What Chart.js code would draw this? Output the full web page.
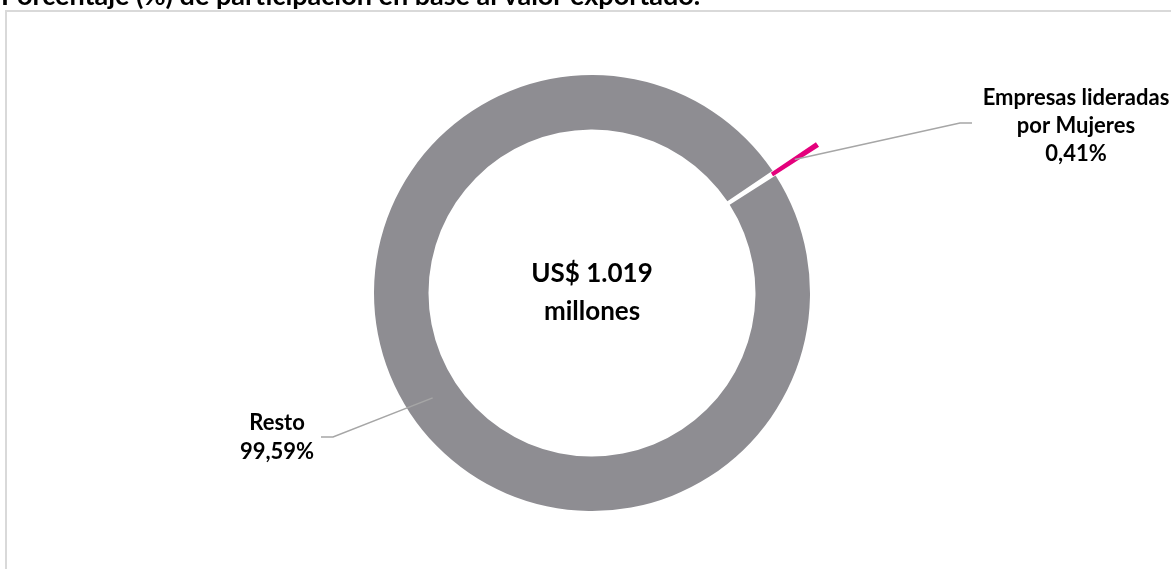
<!DOCTYPE html>
<html lang="es">
<head>
<meta charset="utf-8">
<title>Participación en el valor exportado</title>
<script src="https://cdn.jsdelivr.net/npm/chart.js@4.4.1/dist/chart.umd.min.js"></script>
<style>
  html, body { margin: 0; padding: 0; background: #fff; overflow: hidden; }
  #wrap { position: relative; width: 1171px; height: 569px; }
</style>
</head>
<body>
<div id="wrap"><canvas id="chart" width="1171" height="569"></canvas></div>
<script>
const categories = ['Empresas lideradas por Mujeres', 'Resto'];
const labelNames = [['Empresas lideradas', 'por Mujeres'], ['Resto']];
const shares = [0.41, 99.59];
const totalMillions = 1019;
const chartTitle = 'Porcentaje (%) de participación en base al valor exportado.';

const sliceColors = ['#e4007c', '#8e8d92'];
const explodeBy = [52, 0];
const FONT = 'Lato, "Noto Sans", sans-serif';

// elbow of each leader line, end of its short flat run, and where the text sits
const calloutPos = [
  { elbow: [960, 123], end: [972, 123], textX: 1076, textY: 105, lineGap: 28 },
  { elbow: [333, 437], end: [321, 437], textX: 277, textY: 430, lineGap: 29 }
];

function pct(v) {
  return v.toFixed(2).replace('.', ',') + '%';
}

function thousands(v) {
  return String(v).replace(/\B(?=(\d{3})+(?!\d))/g, '.');
}

// draws the slices ourselves so an exploded one keeps its full angle
const explodedSlices = {
  id: 'explodedSlices',
  beforeDatasetsDraw(chart) {
    const ctx = chart.ctx;
    chart.getDatasetMeta(0).data.forEach((arc, i) => {
      const mid = (arc.startAngle + arc.endAngle) / 2;
      ctx.save();
      ctx.translate(Math.cos(mid) * explodeBy[i], Math.sin(mid) * explodeBy[i]);
      arc.draw(ctx, chart.chartArea);
      ctx.restore();
    });
    return false;
  }
};

const decorations = {
  id: 'decorations',
  beforeDraw(chart) {
    const ctx = chart.ctx;
    ctx.save();
    ctx.fillStyle = '#fff';
    ctx.fillRect(0, 0, chart.width, chart.height);

    // frame
    ctx.strokeStyle = '#d9d9d9';
    ctx.lineWidth = 2;
    ctx.beginPath();
    ctx.moveTo(6, chart.height);
    ctx.lineTo(6, 11);
    ctx.lineTo(chart.width, 11);
    ctx.stroke();

    // title, partly above the canvas
    ctx.fillStyle = '#000';
    ctx.font = 'bold 27px ' + FONT;
    ctx.textAlign = 'left';
    ctx.textBaseline = 'alphabetic';
    ctx.fillText(chartTitle, 1, 5);
    ctx.restore();
  },
  afterDraw(chart) {
    const ctx = chart.ctx;
    const arcs = chart.getDatasetMeta(0).data;
    ctx.save();

    arcs.forEach((arc, i) => {
      const pos = calloutPos[i];
      const mid = (arc.startAngle + arc.endAngle) / 2;
      const r = (arc.innerRadius + arc.outerRadius) / 2 + explodeBy[i];
      const sx = arc.x + Math.cos(mid) * r;
      const sy = arc.y + Math.sin(mid) * r;

      ctx.strokeStyle = '#a6a6a6';
      ctx.lineWidth = 1.5;
      ctx.beginPath();
      ctx.moveTo(sx, sy);
      ctx.lineTo(pos.elbow[0], pos.elbow[1]);
      ctx.lineTo(pos.end[0], pos.end[1]);
      ctx.stroke();

      const lines = labelNames[i].concat([pct(shares[i])]);
      ctx.fillStyle = '#000';
      ctx.font = 'bold 22px ' + FONT;
      ctx.textAlign = 'center';
      ctx.textBaseline = 'alphabetic';
      lines.forEach((t, k) => ctx.fillText(t, pos.textX, pos.textY + k * pos.lineGap));
    });

    // total in the hole
    const cx = arcs[0].x;
    const cy = arcs[0].y;
    ctx.font = 'bold 26px ' + FONT;
    ctx.textAlign = 'center';
    ctx.fillText('US$ ' + thousands(totalMillions), cx, cy - 11);
    ctx.fillText('millones', cx, cy + 27);
    ctx.restore();
  }
};

new Chart(document.getElementById('chart'), {
  type: 'doughnut',
  data: {
    labels: categories,
    datasets: [{
      data: shares,
      backgroundColor: sliceColors,
      borderWidth: 0
    }]
  },
  options: {
    responsive: false,
    animation: false,
    events: [],
    rotation: 55.9,
    radius: 218,
    cutout: '75%',
    layout: { padding: { left: 13, top: 17, right: 0, bottom: 0 } },
    plugins: {
      legend: { display: false },
      tooltip: { enabled: false }
    }
  },
  plugins: [decorations, explodedSlices]
});
</script>
</body>
</html>
